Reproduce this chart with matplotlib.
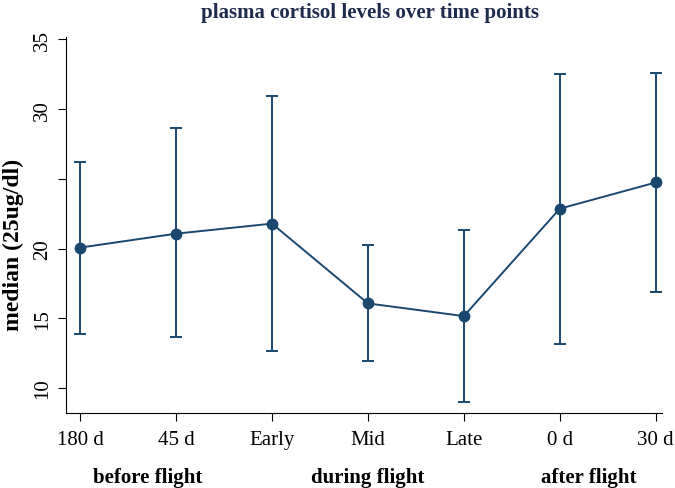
import numpy as np
import matplotlib
matplotlib.use('Agg')
import matplotlib.pyplot as plt

TIMEPOINTS = ['180 d', '45 d', 'Early', 'Mid', 'Late', '0 d', '30 d']
MEDIAN = [20.07, 21.07, 21.79, 16.07, 15.16, 22.86, 24.74]
UPPER  = [26.19, 28.64, 30.93, 20.29, 21.36, 32.52, 32.59]
LOWER  = [13.90, 13.64, 12.64, 11.93, 8.98, 13.16, 16.90]

PHASES = ['before flight', 'during flight', 'after flight']
PHASE_POS = [0.7, 3.0, 5.3]

Y_TICKS = [10, 15, 20, 25, 30, 35]
Y_LABELS = ['10', '15', '20', '', '30', '35']

NAVY = '#1a476f'
TITLE_COL = '#1e2b4d'

plt.rcParams.update({
    'font.family': 'Liberation Serif',
    'font.size': 15,
})

fig = plt.figure(figsize=(6.75, 4.89), dpi=100)
ax = fig.add_axes([0.098, 0.153, 0.882, 0.773])

x = np.arange(len(TIMEPOINTS))
med = np.array(MEDIAN)
yerr = [med - np.array(LOWER), np.array(UPPER) - med]

ax.errorbar(x, med, yerr=yerr, color=NAVY, lw=1.4, marker='o', ms=7.5,
            capsize=4, capthick=1.4, elinewidth=1.4)

ax.set_xlim(-0.145, 6.06)
ax.set_ylim(8.2, 35.3)
ax.set_xticks(x)
ax.set_xticklabels(TIMEPOINTS)
ax.set_yticks(Y_TICKS)
ax.set_yticklabels(Y_LABELS, rotation=90, va='center')
ax.tick_params(direction='out', length=6, width=0.8, pad=6)
ax.tick_params(axis='y', pad=4)

for s in ['top', 'right']:
    ax.spines[s].set_visible(False)
ax.spines['left'].set_bounds(8.2, 35.2)

ax.set_ylabel('median (25ug/dl)', fontweight='bold', fontsize=17)
ax.yaxis.set_label_coords(-0.07, 0.447)
ax.set_title('plasma cortisol levels over time points', fontweight='bold',
             color=TITLE_COL, fontsize=15, pad=13, x=0.51)

for lbl, pos in zip(PHASES, PHASE_POS):
    ax.text(pos, -0.17, lbl, transform=ax.get_xaxis_transform(),
            ha='center', va='center', fontweight='bold', fontsize=15)

fig.savefig('out.png', dpi=100)
plt.close(fig)
